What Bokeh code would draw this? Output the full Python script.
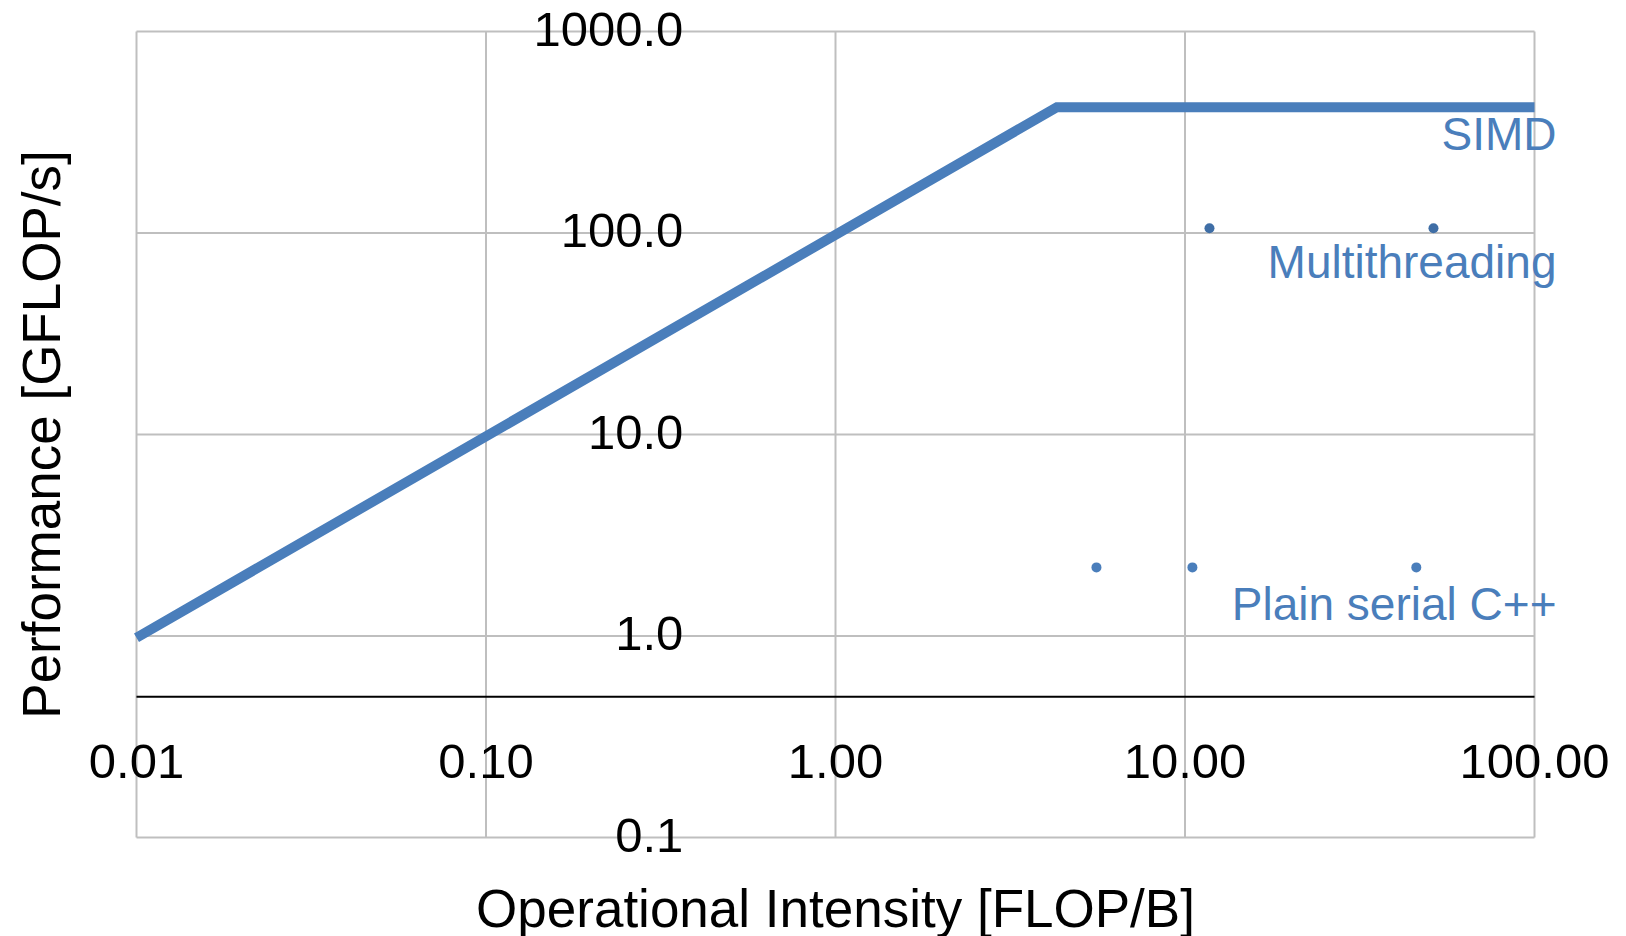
import math
from bokeh.plotting import figure
from bokeh.models import Range1d, LabelSet, ColumnDataSource
from bokeh.core.properties import value
from bokeh.embed import file_html
from bokeh.resources import INLINE

# ---- data ----
roof_intensity = [0.01, 4.3, 100.0]
roof_perf = [0.98, 421.0, 421.0]

serial_intensity = [5.58, 10.5, 45.9]
serial_perf = [2.19, 2.19, 2.19]

mt_intensity = [11.75, 51.4]
mt_perf = [105.6, 105.6]

x_ticks = [0.01, 0.1, 1.0, 10.0, 100.0]
x_tick_labels = ["0.01", "0.10", "1.00", "10.00", "100.00"]
y_ticks = [0.1, 1.0, 10.0, 100.0, 1000.0]
y_tick_labels = ["0.1", "1.0", "10.0", "100.0", "1000.0"]

series_names = ["SIMD", "Multithreading", "Plain serial C++"]
series_label_y = [roof_perf[-1], mt_perf[-1], serial_perf[-1]]

x_title = "Operational Intensity [FLOP/B]"
y_title = "Performance [GFLOP/s]"

x_axis_cross = 0.5   # horizontal axis crosses the vertical axis at this value
y_label_anchor = 0.5

# ---- layout (pixels) ----
W, H = 1620, 936
PL, PR, PT, PB = 136, 1534, 31, 837   # plot-area edges on the canvas

BLUE = "#4a7ebb"
BLUE_DARK = "#3f6ea6"
GRID = "#bfbfbf"
FONT = value("Liberation Sans")

x_min, x_max = x_ticks[0], x_ticks[-1]
y_min, y_max = y_ticks[0], y_ticks[-1]
xd = (PR - PL) / (math.log10(x_max) - math.log10(x_min))
yd = (PB - PT) / (math.log10(y_max) - math.log10(y_min))
x_start = 10 ** (math.log10(x_min) - PL / xd)
x_end = 10 ** (math.log10(x_max) + (W - PR) / xd)
y_end = 10 ** (math.log10(y_max) + PT / yd)
y_start = 10 ** (math.log10(y_min) - (H - PB) / yd)

p = figure(
    x_axis_type="log", y_axis_type="log",
    x_axis_location=None, y_axis_location=None,
    x_range=Range1d(x_start, x_end), y_range=Range1d(y_start, y_end),
    frame_width=W, frame_height=H,
    min_border=0, min_border_left=0, min_border_right=0,
    min_border_top=0, min_border_bottom=0,
    output_backend="svg", toolbar_location=None,
    background_fill_color="white", border_fill_color="white",
)
p.outline_line_color = None
p.xgrid.visible = False
p.ygrid.visible = False
p.xgrid.grid_line_color = None
p.ygrid.grid_line_color = None

# grid + plot-area border
p.segment(x0=x_ticks, y0=[y_min] * len(x_ticks), x1=x_ticks, y1=[y_max] * len(x_ticks),
          line_color=GRID, line_width=2)
p.segment(x0=[x_min] * len(y_ticks), y0=y_ticks, x1=[x_max] * len(y_ticks), y1=y_ticks,
          line_color=GRID, line_width=2)

# horizontal axis line
p.segment(x0=[x_min], y0=[x_axis_cross], x1=[x_max], y1=[x_axis_cross],
          line_color="black", line_width=2)

# roofline
p.line(roof_intensity, roof_perf, line_color=BLUE, line_width=10, line_join="miter")

# points
p.scatter(mt_intensity, mt_perf, size=10, fill_color=BLUE_DARK, line_color=None)
p.scatter(serial_intensity, serial_perf, size=10, fill_color=BLUE, line_color=None)

# x tick labels
xsrc = ColumnDataSource(dict(x=x_ticks, y=[x_axis_cross] * len(x_ticks), t=x_tick_labels))
p.add_layout(LabelSet(x="x", y="y", text="t", source=xsrc, text_align="center",
                      text_baseline="alphabetic", y_offset=-81,
                      text_font=FONT, text_font_size=value("49px"), text_color="black"))

# y tick labels
ysrc = ColumnDataSource(dict(x=[y_label_anchor] * len(y_ticks), y=y_ticks, t=y_tick_labels))
p.add_layout(LabelSet(x="x", y="y", text="t", source=ysrc, text_align="right",
                      text_baseline="alphabetic", x_offset=-47, y_offset=-14,
                      text_font=FONT, text_font_size=value("49px"), text_color="black"))

# series labels
ssrc = ColumnDataSource(dict(x=[x_max] * 3, y=series_label_y, t=series_names,
                             dy=[-43, -50, -53]))
p.add_layout(LabelSet(x="x", y="y", text="t", source=ssrc, text_align="right",
                      text_baseline="alphabetic", x_offset=22, y_offset="dy",
                      text_font=FONT, text_font_size=value("46px"), text_color=BLUE))

# axis titles
x_mid = math.sqrt(x_min * x_max)
y_mid = math.sqrt(y_min * y_max)
tsrc = ColumnDataSource(dict(x=[x_mid], y=[y_min], t=[x_title]))
p.add_layout(LabelSet(x="x", y="y", text="t", source=tsrc, text_align="center",
                      text_baseline="alphabetic", y_offset=-89,
                      text_font=FONT, text_font_size=value("53px"), text_color="black"))
ttsrc = ColumnDataSource(dict(x=[x_min], y=[y_mid], t=[y_title]))
p.add_layout(LabelSet(x="x", y="y", text="t", source=ttsrc, text_align="center",
                      text_baseline="middle", x_offset=-95, angle=math.pi / 2,
                      text_font=FONT, text_font_size=value("53px"), text_color="black"))

open("out.html", "w").write(file_html(p, INLINE))
